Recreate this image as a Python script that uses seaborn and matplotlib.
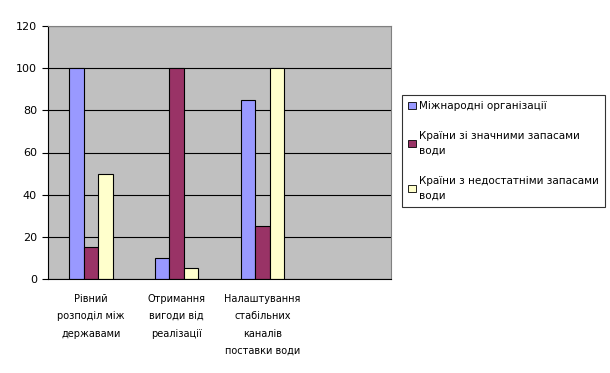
import pandas as pd
import matplotlib
matplotlib.use('Agg')
import matplotlib.pyplot as plt
import seaborn as sns

# Дані
categories = ['Рівний\nрозподіл між\nдержавами',
              'Отримання\nвигоди від\nреалізації',
              'Налаштування\nстабільних\nканалів\nпоставки води']
series = ['Міжнародні організації',
          'Країни зі значними запасами\nводи',
          'Країни з недостатніми запасами\nводи']
intl_orgs = [100, 10, 85]
rich_countries = [15, 100, 25]
poor_countries = [50, 5, 100]
y_ticks = [0, 20, 40, 60, 80, 100, 120]

colors = ['#9999FF', '#993366', '#FFFFCC']

df = pd.DataFrame({
    'category': categories * 3,
    'series': [series[0]] * 3 + [series[1]] * 3 + [series[2]] * 3,
    'value': intl_orgs + rich_countries + poor_countries,
})

sns.set_style('white')
plt.rcParams['font.family'] = ['DejaVu Sans']
plt.rcParams['text.color'] = 'black'
plt.rcParams['xtick.color'] = 'black'
plt.rcParams['ytick.color'] = 'black'

fig = plt.figure(figsize=(6.1, 3.73), dpi=100)
ax = fig.add_axes([48 / 610, 1 - 279 / 373, 343 / 610, 253 / 373])
ax.set_facecolor('#C0C0C0')

order = categories + [' ']
sns.barplot(data=df, x='category', y='value', hue='series', order=order,
            hue_order=series, palette=colors, width=0.51, saturation=1,
            edgecolor='black', linewidth=0.8, ax=ax)

ax.set_axisbelow(True)
ax.yaxis.grid(True, color='black', linewidth=0.8)
ax.set_ylim(0, 120)
ax.set_yticks(y_ticks)
ax.set_xlim(-0.5, 3.5)
ax.set_xticks(range(4))
ax.set_xticklabels(categories + [''], fontsize=7, linespacing=1.9,
                   va='top')
ax.set_xticks([-0.5, 0.5, 1.5, 2.5, 3.5], minor=True)
ax.tick_params(axis='x', which='major', length=0, pad=11)
ax.tick_params(axis='x', which='minor', length=5, width=0.8, direction='out', color='black')
ax.tick_params(axis='y', length=4, width=0.8, direction='out', color='black',
               labelsize=8, pad=4, left=True)
ax.set_xlabel('')
ax.set_ylabel('')

for side in ['left', 'bottom']:
    ax.spines[side].set_color('black')
    ax.spines[side].set_linewidth(0.8)
for side in ['top', 'right']:
    ax.spines[side].set_color('#808080')
    ax.spines[side].set_linewidth(0.8)

handles, labels = ax.get_legend_handles_labels()
ax.get_legend().remove()
leg = fig.legend(handles, labels, loc='upper left',
                 bbox_to_anchor=(402 / 610, 1 - 95 / 373),
                 fontsize=7.5, frameon=True, fancybox=False,
                 edgecolor='black', handlelength=0.7, handleheight=0.7,
                 handletextpad=0.3, labelspacing=1.9, borderpad=0.6,
                 borderaxespad=0)
leg.get_frame().set_linewidth(0.8)
for t in leg.get_texts():
    t.set_linespacing(1.6)
for h in leg.legend_handles:
    h.set_edgecolor('black')
    h.set_linewidth(0.6)

fig.savefig('out.png', dpi=100)
